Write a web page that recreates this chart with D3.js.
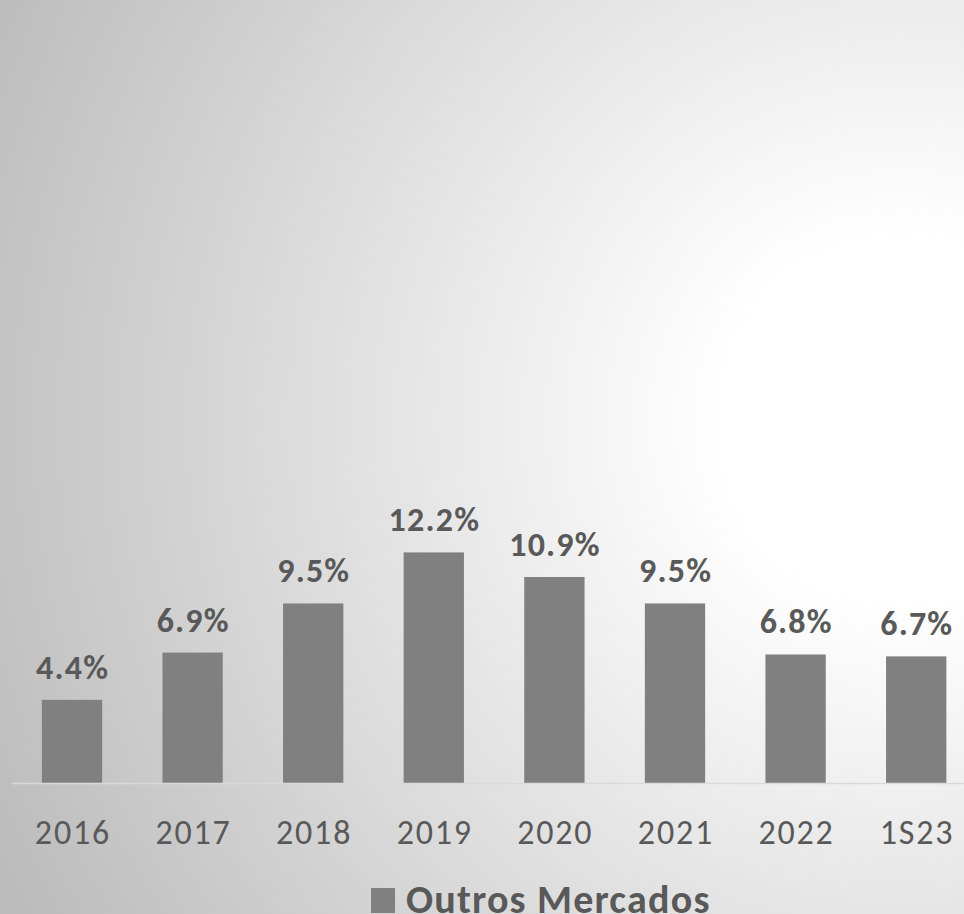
<!DOCTYPE html>
<html>
<head>
<meta charset="utf-8">
<script src="https://cdn.jsdelivr.net/npm/d3@7"></script>
<style>
  html, body { margin: 0; padding: 0; overflow: hidden; }
  svg { display: block; }
</style>
</head>
<body>
<svg id="chart" width="964" height="914"></svg>
<script>
const categories = ["2016", "2017", "2018", "2019", "2020", "2021", "2022", "1S23"];
const values = [4.4, 6.9, 9.5, 12.2, 10.9, 9.5, 6.8, 6.7];
const valueLabels = ["4.4%", "6.9%", "9.5%", "12.2%", "10.9%", "9.5%", "6.8%", "6.7%"];
const seriesName = "Outros Mercados";

const W = 964, H = 914;
const FONT = "Carlito, Calibri, Lato, 'Open Sans', sans-serif";
const svg = d3.select("#chart");

// background radial gradient
const defs = svg.append("defs");
const grad = defs.append("radialGradient")
  .attr("id", "bg").attr("gradientUnits", "userSpaceOnUse")
  .attr("cx", 900).attr("cy", 420).attr("r", 1000);
grad.append("stop").attr("offset", 0.18).attr("stop-color", "#ffffff");
grad.append("stop").attr("offset", 0.9).attr("stop-color", "#c4c4c4");
grad.append("stop").attr("offset", 1).attr("stop-color", "#bcbcbc");
svg.append("rect").attr("width", W).attr("height", H).attr("fill", "url(#bg)");

const x = d3.scaleBand().domain(categories).range([11.7, 976.5])
  .paddingInner(0.5).paddingOuter(0.25);
const y = d3.scaleLinear().domain([0, 14]).range([783, 783 - 14 * 18.9]);

// bars
svg.append("g").selectAll("rect").data(categories).join("rect")
  .attr("x", d => x(d))
  .attr("width", x.bandwidth())
  .attr("y", (d, i) => y(values[i]))
  .attr("height", (d, i) => y(0) - y(values[i]))
  .attr("fill", "#808080");

// baseline
svg.append("line")
  .attr("x1", x.range()[0]).attr("x2", x.range()[1])
  .attr("y1", y(0) + 0.5).attr("y2", y(0) + 0.5)
  .attr("stroke", "#d9d9d9").attr("stroke-width", 1.5);

// category axis
const axis = svg.append("g").attr("transform", `translate(0,${y(0)})`)
  .call(d3.axisBottom(x).tickSize(0).tickPadding(0));
axis.select(".domain").remove();
axis.selectAll("text")
  .attr("dy", null).attr("y", 61)
  .attr("font-family", FONT).attr("font-size", 34)
  .attr("letter-spacing", "1.8px")
  .attr("dx", "0.9px")
  .attr("fill", "#595959");

// data labels
svg.append("g").selectAll("text").data(categories).join("text")
  .attr("x", d => x(d) + x.bandwidth() / 2 + 0.6)
  .attr("y", (d, i) => y(values[i]) - 21)
  .attr("text-anchor", "middle")
  .attr("font-family", FONT).attr("font-size", 34).attr("font-weight", "bold")
  .attr("letter-spacing", "1.2px")
  .attr("fill", "#595959")
  .text((d, i) => valueLabels[i]);

// legend
const lg = svg.append("g");
lg.append("rect").attr("x", 371).attr("y", 888).attr("width", 24).attr("height", 25).attr("fill", "#808080");
lg.append("text").attr("x", 406).attr("y", 913)
  .attr("font-family", FONT).attr("font-size", 40).attr("font-weight", "bold")
  .attr("letter-spacing", "1.2px")
  .attr("fill", "#595959").text(seriesName);
</script>
</body>
</html>
